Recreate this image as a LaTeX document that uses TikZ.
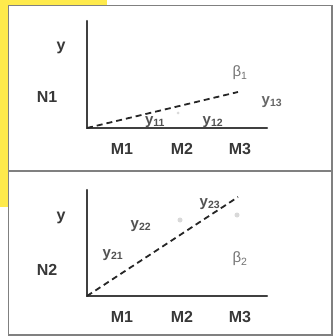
\documentclass[tikz,border=0pt]{standalone}
\usepackage{fontspec}
\setmainfont{Liberation Sans}
\begin{document}
\begin{tikzpicture}[x=1pt,y=-1pt,
  axis/.style={draw=black!75,line width=2.2pt,line cap=round},
  trend/.style={draw=black!85,line width=1.8pt,dash pattern=on 6pt off 4pt},
  frame/.style={draw=black!50,line width=1.6pt},
  label/.style={font=\fontsize{16}{18}\selectfont\bfseries,text=black!78,inner sep=0pt},
  obs/.style={font=\fontsize{15}{17}\selectfont\bfseries,text=black!68,inner sep=0pt},
  slope/.style={font=\fontsize{15}{17}\selectfont,text=black!55,inner sep=0pt},
  ghost/.style={fill=black!15,circle,inner sep=0pt,minimum size=5pt}]
\useasboundingbox (0,0) rectangle (334,336);

% Yellow margin behind the panels.
\fill[yellow!85!orange!70!white] (0,0) rectangle (107,6);
\fill[yellow!85!orange!70!white] (0,0) rectangle (9,207);
\fill[white] (9,6) rectangle (332,335);

% Panel frames.
\draw[frame] (8.5,5.5) rectangle (332,171);
\draw[frame] (8.5,171) rectangle (332,335);

% Panel N1: almost flat trend.
\coordinate (o1) at (87,128);
\coordinate (t1) at (87,21);
\coordinate (r1) at (267,128);
\coordinate (e1) at (238,92);
\draw[axis] (t1) -- (o1) -- (r1);
\draw[trend] (o1) -- (e1);
\node[label] (y1) at (61,48) {y};
\node[label] (n1) at (47,97) {N1};
\node[label] (m11) at (122,149) {M1};
\node[label] (m12) at (182,149) {M2};
\node[label] (m13) at (240,149) {M3};
\node[slope] (b1) at (240,73) {β\textsubscript{1}};
\node[obs] (y11) at (155,122) {y\textsubscript{11}};
\node[obs] (y12) at (213,122) {y\textsubscript{12}};
\node[obs,text=black!60] (y13) at (272,102) {y\textsubscript{13}};
\node[ghost,minimum size=3pt] (g1) at (178,113) {};

% Panel N2: steep trend.
\coordinate (o2) at (87,296);
\coordinate (t2) at (87,190);
\coordinate (r2) at (267,296);
\coordinate (e2) at (238,197);
\draw[axis] (t2) -- (o2) -- (r2);
\draw[trend] (o2) -- (e2);
\node[label] (y2) at (61,218) {y};
\node[label] (n2) at (47,270) {N2};
\node[label] (m21) at (122,317) {M1};
\node[label] (m22) at (182,317) {M2};
\node[label] (m23) at (240,317) {M3};
\node[slope] (b2) at (240,259) {β\textsubscript{2}};
\node[obs] (y21) at (113,255) {y\textsubscript{21}};
\node[obs] (y22) at (141,226) {y\textsubscript{22}};
\node[obs] (y23) at (210,204) {y\textsubscript{23}};
\node[ghost] (g2) at (180,220) {};
\node[ghost] (g3) at (237,215) {};
\end{tikzpicture}
\end{document}
